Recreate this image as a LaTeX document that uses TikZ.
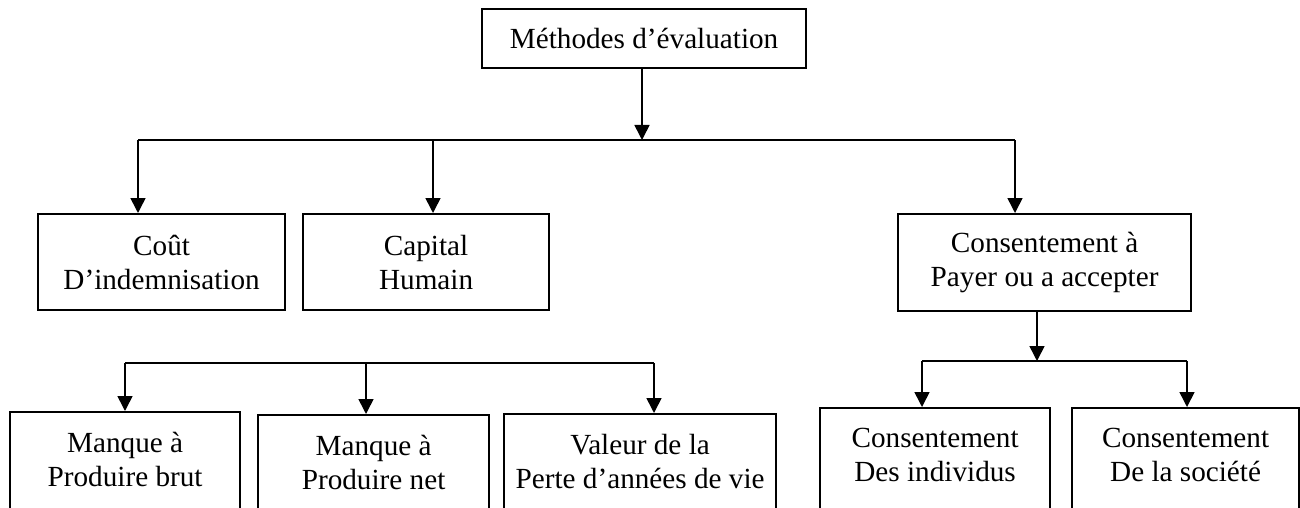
\documentclass[tikz,border=0pt]{standalone}
\usepackage{fontspec}
\setmainfont{Liberation Serif}
\usetikzlibrary{arrows.meta}
\begin{document}
\begin{tikzpicture}[x=0.5pt,y=-0.5pt,
  txt/.style={font={\fontsize{14.6pt}{17pt}\selectfont}, align=center, inner xsep=0pt},
  box/.style={txt, draw, line width=1.1pt, anchor=north west, inner ysep=0pt},
  lowbox/.style={txt, draw, line width=1.1pt, anchor=north west, inner ysep=10pt, text depth=60pt},
  conn/.style={line width=0.8pt},
  arr/.style={conn, -{Triangle[width=7.5pt,length=7.5pt]}}]
\useasboundingbox (0,0) rectangle (1300,508);
\clip (0,0) rectangle (1300,508);
\fill[white] (0,0) rectangle (1300,508);
% nodes
\node[box, minimum width=162pt, minimum height=29.5pt] (top) at (481,8) {Méthodes d’évaluation};
\node[box, minimum width=123.5pt, minimum height=48pt] (cout) at (37,213) {Coût\\D’indemnisation};
\node[box, minimum width=123pt, minimum height=48pt] (capital) at (302,213) {Capital\\Humain};
\node[box, minimum width=146.5pt, minimum height=48.5pt] (cons) at (897,213) {Consentement à\\Payer ou a accepter};
\node[lowbox, minimum width=115pt] (brut) at (9,411) {Manque à\\Produire brut};
\node[lowbox, minimum width=115.5pt] (net) at (257,414) {Manque à\\Produire net};
\node[lowbox, minimum width=136pt] (valeur) at (503,413) {Valeur de la\\Perte d’années de vie};
\node[lowbox, minimum width=115pt] (indiv) at (819,407) {Consentement\\Des individus};
\node[lowbox, minimum width=113.5pt] (soc) at (1071,407) {Consentement\\De la société};
% hubs
\coordinate (h1) at (642,140);
\coordinate (h1L) at (138,140);
\coordinate (h1C) at (433,140);
\coordinate (h1R) at (1015,140);
\coordinate (h2L) at (125,363);
\coordinate (h2C) at (366,363);
\coordinate (h2R) at (654,363);
\coordinate (h3) at (1037,361);
\coordinate (h3L) at (922,361);
\coordinate (h3R) at (1187,361);
% connectors
\draw[arr] (h1 |- top.south) -- (h1);
\draw[conn] (h1L) -- (h1R);
\draw[arr] (h1L) -- (h1L |- cout.north);
\draw[arr] (h1C) -- (h1C |- capital.north);
\draw[arr] (h1R) -- (h1R |- cons.north);
\draw[conn] (h2L) -- (h2R);
\draw[arr] (h2L) -- (h2L |- brut.north);
\draw[arr] (h2C) -- (h2C |- net.north);
\draw[arr] (h2R) -- (h2R |- valeur.north);
\draw[arr] (h3 |- cons.south) -- (h3);
\draw[conn] (h3L) -- (h3R);
\draw[arr] (h3L) -- (h3L |- indiv.north);
\draw[arr] (h3R) -- (h3R |- soc.north);
\end{tikzpicture}
\end{document}
